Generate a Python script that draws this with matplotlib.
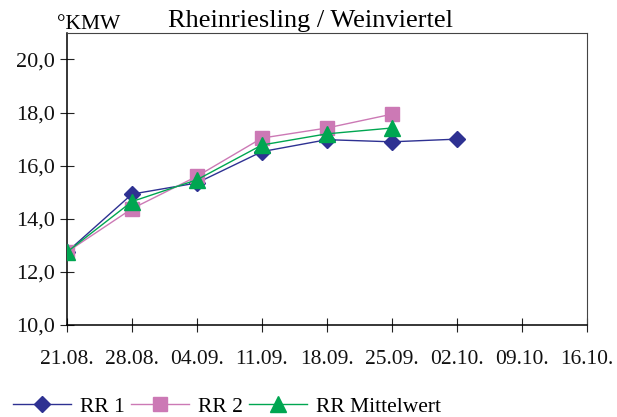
import numpy as np
import matplotlib.pyplot as plt
from matplotlib.ticker import FixedLocator

# Wochen ab 21.08.
dates = ['21.08.', '28.08.', '04.09.', '11.09.', '18.09.', '25.09.', '02.10.', '09.10.', '16.10.']
rr1 = [12.75, 14.93, 15.35, 16.53, 16.98, 16.90, 17.00]
rr2 = [12.75, 14.38, 15.60, 17.04, 17.42, 17.94]
rr_mittel = [12.75, 14.65, 15.47, 16.78, 17.20, 17.42]

plt.rcParams['font.family'] = ['Liberation Serif', 'DejaVu Serif']

fig = plt.figure(figsize=(6.17, 4.17), dpi=100)
ax = fig.add_axes([0.1086, 0.2206, 0.8424, 0.7004])

ax.plot(np.arange(len(rr1)), rr1, color='#2E3192', lw=1.0, marker='D', ms=8,
        label='RR 1', zorder=3)
ax.plot(np.arange(len(rr2)), rr2, color='#CC79B5', lw=1.0, marker='s', ms=10,
        label='RR 2', zorder=4)
ax.plot(np.arange(len(rr_mittel)), rr_mittel, color='#00A651', lw=1.0, marker='^', ms=11,
        label='RR Mittelwert', zorder=5)

ax.set_xlim(0, len(dates) - 1)
ax.set_ylim(10, 21)
ax.xaxis.set_major_locator(FixedLocator(range(len(dates))))
ax.set_xticklabels(dates, fontsize=15.5)
ax.yaxis.set_major_locator(FixedLocator([10, 12, 14, 16, 18, 20]))
ax.set_yticklabels(['10,0', '12,0', '14,0', '16,0', '18,0', '20,0'], fontsize=16)
ax.tick_params(axis='both', direction='inout', length=10, width=0.8,
               color='#222222', labelcolor='#111111')
ax.tick_params(axis='x', pad=13)
ax.tick_params(axis='y', pad=4)
for s in ax.spines.values():
    s.set_linewidth(0.8)
ax.spines['left'].set_linewidth(1.1)
ax.spines['bottom'].set_linewidth(1.1)
ax.spines['top'].set_color('#444444')
ax.spines['right'].set_color('#444444')

fig.text(0.503, 0.950, 'Rheinriesling / Weinviertel', ha='center', va='center', fontsize=19)
fig.text(0.093, 0.942, '°KMW', ha='left', va='center', fontsize=15.5)

fig.legend(loc='lower left', bbox_to_anchor=(0.0, -0.03), ncol=3, frameon=False,
           fontsize=15.5, handlelength=2.7, handletextpad=0.4, columnspacing=0.3,
           borderaxespad=0.2)

fig.savefig('out.png', dpi=100)
